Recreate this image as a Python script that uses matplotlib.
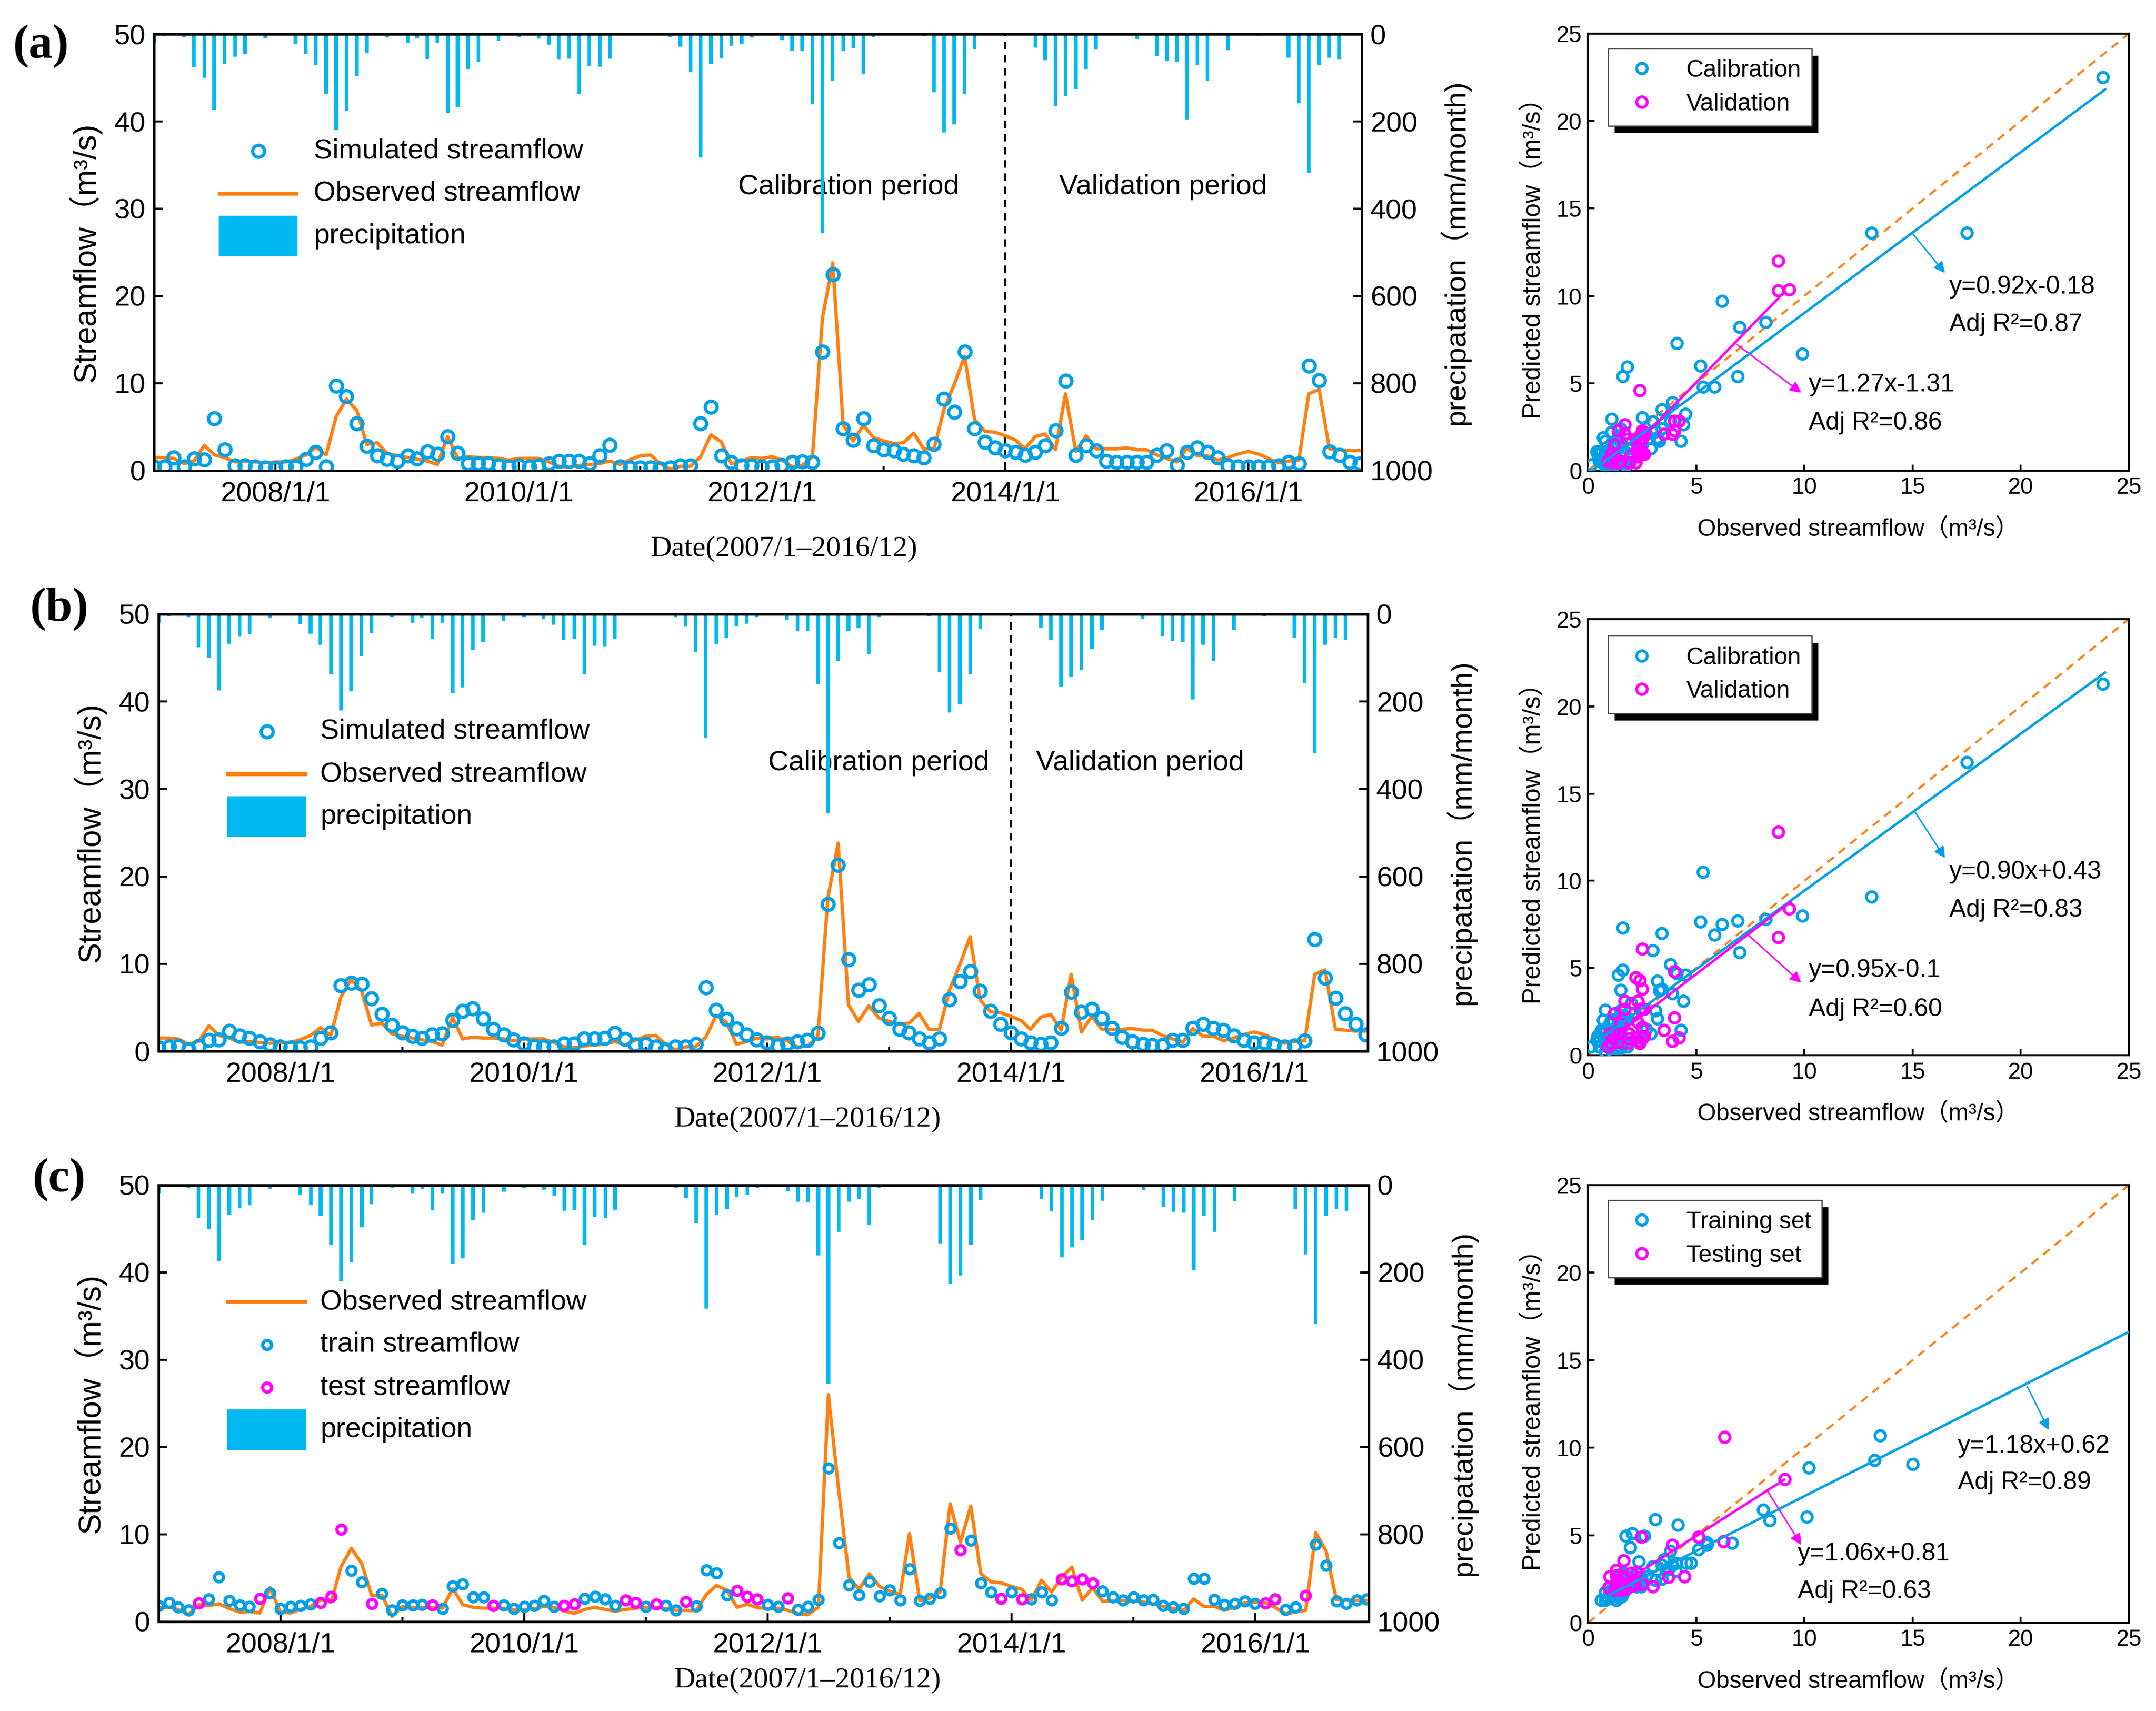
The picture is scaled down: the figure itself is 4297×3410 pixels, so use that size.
import numpy as np
import pandas as pd
import matplotlib
matplotlib.use("Agg")
import matplotlib.pyplot as plt
import matplotlib.dates as mdates
from matplotlib.lines import Line2D
from matplotlib.patches import Rectangle

SANS = ["Liberation Sans", "Noto Sans CJK SC", "DejaVu Sans"]
SERIF = ["Liberation Serif", "DejaVu Serif"]
plt.rcParams["font.family"] = SANS

# ---------------- data ----------------
dates = pd.date_range("2007-01-01", periods=120, freq="MS")

precip = [20, 5, 0, 7, 76, 100, 174, 68, 52, 46, 0, 9,
          0, 0, 23, 45, 70, 137, 220, 176, 97, 44, 0, 7,
          0, 20, 9, 57, 19, 180, 168, 81, 63, 0, 15, 0,
          7, 4, 10, 24, 59, 56, 137, 72, 75, 56, 0, 0,
          0, 3, 0, 7, 29, 87, 283, 68, 55, 27, 22, 7,
          0, 0, 14, 38, 39, 161, 455, 107, 38, 32, 91, 7,
          4, 3, 4, 0, 5, 133, 225, 207, 137, 34, 0, 0,
          0, 0, 4, 31, 60, 165, 143, 127, 80, 36, 0, 3,
          0, 11, 0, 50, 61, 63, 195, 70, 107, 0, 37, 0,
          4, 5, 0, 3, 54, 159, 318, 70, 54, 59, 0, 0]

obs_ab = [1.5, 1.5, 1.4, 0.8, 1.1, 2.9, 1.8, 1.5, 1.0, 1.1, 1.0, 0.9,
          1.0, 1.0, 1.3, 1.8, 2.7, 1.8, 6.2, 8.2, 6.9, 3.0, 3.2, 2.0,
          1.7, 1.5, 1.3, 1.1, 0.7, 3.9, 1.4, 1.6, 1.5, 1.5, 1.4, 1.2,
          1.4, 1.4, 1.4, 1.0, 0.5, 0.4, 0.6, 0.7, 0.8, 1.1, 0.7, 1.25,
          1.7, 1.8, 0.8, 0.15, 0.5, 0.5, 1.6, 4.1, 3.3, 0.8, 1.1, 1.5,
          1.4, 1.6, 1.2, 0.45, 0.6, 1.6, 17.5, 23.8, 5.3, 3.4, 5.2, 3.8,
          3.4, 3.1, 3.2, 4.3, 2.5, 2.5, 7.0, 9.9, 13.1, 5.85, 4.5, 4.4,
          4.0, 3.5, 2.5, 3.9, 4.2, 2.4, 8.8, 2.2, 4.0, 2.5, 2.5, 2.5,
          2.6, 2.4, 2.4, 1.8, 1.4, 1.0, 2.6, 1.7, 1.7, 1.2, 1.5, 1.9,
          2.2, 1.9, 1.4, 0.9, 1.1, 1.2, 8.8, 9.3, 2.5, 2.4, 2.3, 2.3]

sim_a = [0.45, 0.45, 1.5, 0.45, 1.4, 1.25, 5.95, 2.4, 0.55, 0.55, 0.45, 0.35,
         0.3, 0.45, 0.45, 1.3, 2.1, 0.45, 9.7, 8.5, 5.4, 2.8, 1.75, 1.3,
         1.1, 1.7, 1.4, 2.2, 1.9, 3.9, 2.0, 0.8, 0.8, 0.8, 0.55, 0.45,
         0.55, 0.45, 0.55, 0.8, 1.1, 1.1, 1.1, 0.8, 1.7, 2.95, 0.45, 0.35,
         0.35, 0.35, 0.25, 0.35, 0.55, 0.55, 5.4, 7.3, 1.7, 1.0, 0.55, 0.55,
         0.45, 0.45, 0.65, 0.95, 1.05, 1.0, 13.6, 22.5, 4.8, 3.5, 6.0, 2.85,
         2.4, 2.3, 1.9, 1.7, 1.5, 3.05, 8.2, 6.7, 13.6, 4.8, 3.25, 2.65,
         2.3, 2.1, 1.8, 2.1, 2.85, 4.6, 10.3, 1.8, 2.85, 2.3, 1.1, 0.95,
         0.95, 0.95, 0.95, 1.8, 2.3, 0.65, 2.1, 2.65, 2.1, 1.5, 0.55, 0.45,
         0.45, 0.45, 0.45, 0.55, 1.0, 0.8, 12.0, 10.35, 2.2, 1.8, 1.0, 0.8]

sim_b = [0.4, 0.5, 0.55, 0.2, 0.55, 1.25, 1.3, 2.3, 1.8, 1.5, 1.1, 0.75,
         0.5, 0.4, 0.4, 0.5, 1.5, 2.15, 7.5, 7.8, 7.7, 6.0, 4.25, 3.0,
         2.1, 1.7, 1.5, 1.9, 2.0, 3.55, 4.6, 4.9, 3.75, 2.55, 1.9, 1.3,
         0.85, 0.55, 0.5, 0.5, 0.85, 0.85, 1.45, 1.45, 1.5, 2.05, 1.35, 0.75,
         0.8, 0.5, 0.2, 0.5, 0.5, 0.8, 7.3, 4.7, 3.7, 2.6, 1.9, 1.3,
         0.95, 0.65, 0.85, 1.1, 1.25, 2.05, 16.8, 21.3, 10.5, 7.0, 7.65, 5.2,
         3.8, 2.55, 2.1, 1.45, 0.95, 1.45, 5.9, 8.0, 9.1, 6.9, 4.6, 3.1,
         2.15, 1.45, 1.0, 0.8, 1.0, 2.65, 6.75, 4.45, 4.8, 3.8, 2.65, 1.6,
         1.1, 0.8, 0.7, 0.7, 1.25, 1.25, 2.65, 3.1, 2.65, 2.4, 1.8, 1.25,
         1.0, 0.95, 0.75, 0.5, 0.65, 1.2, 12.8, 8.4, 6.1, 4.3, 3.1, 1.9]

obs_c = [1.6, 1.65, 1.4, 0.8, 1.95, 1.85, 2.05, 1.5, 1.1, 1.15, 1.0, 3.9,
         1.1, 1.0, 1.4, 1.75, 2.5, 2.25, 6.3, 8.4, 6.65, 3.0, 3.0, 0.6,
         1.75, 1.65, 1.65, 1.65, 1.55, 3.8, 1.95, 1.65, 1.55, 1.55, 1.55, 1.4,
         1.4, 1.5, 1.75, 1.65, 1.2, 0.95, 1.4, 1.65, 1.4, 1.2, 1.4, 1.55,
         1.65, 1.65, 1.5, 1.3, 1.3, 1.25, 3.1, 4.15, 3.6, 1.65, 2.0, 1.6,
         1.5, 1.55, 1.3, 0.9, 0.8, 1.65, 26.0, 15.0, 5.1, 3.7, 5.5, 4.05,
         3.5, 3.1, 10.1, 2.4, 2.7, 3.4, 13.5, 9.1, 13.25, 5.5, 4.55, 4.45,
         4.05, 3.7, 2.45, 4.75, 3.4, 5.1, 6.25, 2.45, 3.9, 2.35, 2.35, 2.45,
         2.35, 2.25, 2.05, 1.75, 1.5, 1.3, 2.6, 1.75, 1.75, 1.3, 1.65, 2.15,
         2.25, 2.15, 1.65, 0.9, 1.1, 1.3, 10.2, 8.1, 2.5, 2.45, 2.45, 2.45]

sim_c = [1.85, 2.2, 1.65, 1.3, 2.1, 2.6, 5.1, 2.4, 1.9, 1.75, 2.65, 3.3,
         1.5, 1.7, 1.85, 2.0, 2.2, 2.9, 10.6, 5.85, 4.55, 2.05, 3.2, 1.3,
         1.9, 1.9, 1.95, 1.9, 1.5, 4.1, 4.3, 2.8, 2.8, 1.85, 1.9, 1.5,
         1.75, 1.85, 2.4, 1.75, 1.85, 2.0, 2.65, 2.85, 2.6, 1.85, 2.45, 2.2,
         1.75, 2.0, 1.85, 1.3, 2.3, 1.8, 5.9, 5.6, 3.05, 3.55, 2.85, 2.6,
         1.95, 1.75, 2.7, 1.4, 1.75, 2.55, 17.6, 9.05, 4.2, 3.05, 4.6, 2.95,
         3.6, 2.45, 6.05, 2.4, 2.65, 3.3, 10.7, 8.2, 9.3, 4.45, 3.4, 2.65,
         3.4, 2.6, 2.6, 3.4, 2.5, 4.9, 4.65, 4.9, 4.45, 3.5, 2.8, 2.5,
         2.8, 2.45, 2.55, 1.85, 1.65, 1.5, 4.95, 4.95, 2.55, 1.95, 2.05, 2.35,
         2.05, 2.15, 2.6, 1.4, 1.65, 3.0, 8.85, 6.45, 2.35, 2.05, 2.45, 2.6]

test_idx_c = [4, 10, 16, 17, 18, 21, 27, 33, 40, 41, 46, 47, 49, 52, 57, 58,
              59, 62, 79, 83, 85, 89, 90, 91, 92, 109, 110, 113]

split_date = "2014-01-01"

tick_dates = ["2008-01-01", "2010-01-01", "2012-01-01", "2014-01-01", "2016-01-01"]
tick_labels = ["2008/1/1", "2010/1/1", "2012/1/1", "2014/1/1", "2016/1/1"]
minor_dates = ["2009-01-01", "2011-01-01", "2013-01-01", "2015-01-01"]
flow_ticks = [0, 10, 20, 30, 40, 50]
prec_ticks = [0, 200, 400, 600, 800, 1000]
sc_ticks = [0, 5, 10, 15, 20, 25]

# regression lines as drawn: slope, intercept, x-start, x-end
reg_a = [(0.92, -0.18, 0.5, 23.9), (1.27, -1.31, 1.1, 8.8)]
reg_b = [(0.90, 0.43, 0.3, 23.9), (0.95, -0.10, 0.8, 9.36)]
reg_c = [(0.626, 0.97, 0.7, 25.0), (0.79, 1.01, 0.9, 9.06)]
eq_a = ["y=0.92x-0.18", "Adj R²=0.87", "y=1.27x-1.31", "Adj R²=0.86"]
eq_b = ["y=0.90x+0.43", "Adj R²=0.83", "y=0.95x-0.1", "Adj R²=0.60"]
eq_c = ["y=1.18x+0.62", "Adj R²=0.89", "y=1.06x+0.81", "Adj R²=0.63"]

# ---------------- style ----------------
W, H, DPI = 4297, 3410, 300
BLUE = "#00A0E6"
BAR = "#00B9F0"
MAG = "#FF00FF"
ORANGE = "#FF7F10"

fig = plt.figure(figsize=(W / DPI, H / DPI), dpi=DPI)


def fx(x):
    return x / W


def fy(y):
    return 1 - y / H


def add_axes_px(l, t, r, b):
    return fig.add_axes([l / W, 1 - b / H, (r - l) / W, (b - t) / H])


xnum = mdates.date2num(dates.to_pydatetime())
split_num = mdates.date2num(pd.Timestamp(split_date).to_pydatetime())
obs_ab_a = np.array(obs_ab)
obs_c_a = np.array(obs_c)
sim_c_a = np.array(sim_c)
is_test = np.zeros(120, dtype=bool)
is_test[test_idx_c] = True


def ts_panel(box, obs, sims, period=True):
    ax = add_axes_px(*box)
    ax2 = ax.twinx()
    ax2.bar(xnum, precip, width=11, color=BAR, align="center", zorder=2)
    ax2.set_ylim(1000, 0)
    ax.plot(xnum, obs, color=ORANGE, lw=1.6, zorder=3)
    for xs, ys, col, ms in sims:
        ax.plot(xs, ys, ls="none", marker="o", mfc="none", mec=col, ms=ms,
                mew=1.6, zorder=4)
    ax.set_ylim(0, 50)
    ax.set_xlim(mdates.date2num(pd.Timestamp("2007-01-01").to_pydatetime()),
                mdates.date2num(pd.Timestamp("2016-12-07").to_pydatetime()))
    ax.set_xticks(mdates.date2num(pd.to_datetime(tick_dates).to_pydatetime()))
    ax.set_xticklabels(tick_labels)
    ax.set_xticks(mdates.date2num(pd.to_datetime(minor_dates).to_pydatetime()), minor=True)
    ax.set_yticks(flow_ticks)
    ax2.set_yticks(prec_ticks)
    for a in (ax, ax2):
        for s in a.spines.values():
            s.set_linewidth(1.2)
    ax.tick_params(axis="both", which="both", direction="in", labelsize=13.5,
                   width=1.0, top=False, right=False)
    ax.tick_params(which="major", length=4)
    ax.tick_params(which="minor", length=2.2)
    ax.tick_params(axis="x", pad=5)
    ax.tick_params(axis="y", pad=4)
    ax2.tick_params(axis="y", direction="in", labelsize=13.5, length=4,
                    width=1.0, pad=4)
    ax.set_ylabel("Streamflow（m³/s)", fontsize=15, labelpad=6)
    ax2.set_ylabel("precipatation（mm/month)", fontsize=14, labelpad=3)
    if period:
        ax.axvline(split_num, color="k", ls=(0, (4, 3)), lw=0.9, zorder=1)
    return ax, ax2


def ts_legend(ax, x0, x1, tx, rows):
    xc = 0.5 * (x0 + x1)
    for (kind, label, col, ms), y in rows:
        if kind == "line":
            ln = Line2D([fx(x0), fx(x1)], [fy(y), fy(y)], color=col, lw=1.9,
                        transform=fig.transFigure)
            fig.add_artist(ln)
        elif kind == "marker":
            mk = Line2D([fx(xc)], [fy(y)], ls="none", marker="o", mfc="none",
                        mec=col, ms=ms, mew=1.6, transform=fig.transFigure)
            fig.add_artist(mk)
        else:
            rc = Rectangle((fx(x0), fy(y + 38)), fx(x1) - fx(x0), 77 / H,
                           color=col, transform=fig.transFigure)
            fig.add_artist(rc)
        fig.text(fx(tx), fy(y), label, ha="left", va="center", fontsize=13.5)


legends = []


def sc_panel(box, pts, regs, arrows, eqs, eqpos, leg_labels, leg_anchor):
    ax = add_axes_px(*box)
    ax.plot([0, 25], [0, 25], color=ORANGE, ls=(0, (4, 3)), lw=1.0, zorder=1)
    handles = []
    for (xs, ys, col), lab in zip(pts, leg_labels):
        h, = ax.plot(xs, ys, ls="none", marker="o", mfc="none", mec=col, ms=5,
                     mew=1.4, zorder=3, label=lab)
        handles.append(h)
    for (m, c, xa, xb), col in zip(regs, [BLUE, MAG]):
        xx = np.array([xa, xb])
        ax.plot(xx, m * xx + c, color=col, lw=1.2, zorder=4)
    for (p0, p1), col in zip(arrows, [BLUE, MAG]):
        ax.annotate("", xy=p1, xytext=p0,
                    arrowprops=dict(arrowstyle="-|>", color=col, lw=0.7,
                                    mutation_scale=11, shrinkA=0, shrinkB=0))
    for txt, (x, y) in zip(eqs, eqpos):
        ax.text(x, y, txt, ha="left", va="center", fontsize=12)
    ax.set_xlim(0, 25)
    ax.set_ylim(0, 25)
    ax.set_xticks(sc_ticks)
    ax.set_yticks(sc_ticks)
    for s in ax.spines.values():
        s.set_linewidth(1.0)
    ax.tick_params(direction="in", labelsize=11, length=3, width=0.9, pad=3)
    ax.set_xlabel("Observed streamflow（m³/s）", fontsize=11.5, labelpad=9)
    ax.set_ylabel("Predicted streamflow（m³/s）", fontsize=12, labelpad=5)
    leg = ax.legend(handles=handles, loc="upper left", bbox_to_anchor=leg_anchor,
                    borderaxespad=0, fontsize=11.5, frameon=True, fancybox=False,
                    edgecolor="#444444", framealpha=1.0, borderpad=0.45,
                    labelspacing=0.45, handlelength=1.9, handletextpad=0.9)
    leg.get_frame().set_linewidth(0.6)
    leg.set_zorder(6)
    legends.append((ax, leg))
    return ax


# ---------------- panel (a) ----------------
cal = xnum < split_num
axa, _ = ts_panel((307, 68, 2714, 938), obs_ab, [(xnum, sim_a, BLUE, 5.7)])
axa.text(fx(1691), fy(373), "Calibration period", transform=fig.transFigure,
         ha="center", va="center", fontsize=13.5)
axa.text(fx(2318), fy(373), "Validation period", transform=fig.transFigure,
         ha="center", va="center", fontsize=13.5)
ts_legend(axa, 438, 591, 625,
          [(("marker", "Simulated streamflow", BLUE, 5.7), 301),
           (("line", "Observed streamflow", ORANGE, 0), 386),
           (("rect", "precipitation", BAR, 0), 471)])
fig.text(fx(1562), fy(1094), "Date(2007/1–2016/12)", ha="center", va="center",
         fontsize=14, family=SERIF)
fig.text(fx(82), fy(92), "(a)", ha="center", va="center", fontsize=23,
         fontweight="bold", family=SERIF)

sim_a_a = np.array(sim_a)
sc_panel((3165, 67, 4243, 938),
         [(obs_ab_a[cal], sim_a_a[cal], BLUE), (obs_ab_a[~cal], sim_a_a[~cal], MAG)],
         reg_a,
         [((15.0, 13.56), (16.5, 11.3)), ((6.9, 7.2), (9.86, 4.45))],
         eq_a, [(16.7, 10.5), (16.7, 8.36), (10.2, 4.92), (10.2, 2.73)],
         ["Calibration", "Validation"], (0.037, 0.966))

# ---------------- panel (b) ----------------
axb, _ = ts_panel((316, 1224, 2726, 2095), obs_ab, [(xnum, sim_b, BLUE, 5.7)])
axb.text(fx(1751), fy(1521), "Calibration period", transform=fig.transFigure,
         ha="center", va="center", fontsize=13.5)
axb.text(fx(2272), fy(1521), "Validation period", transform=fig.transFigure,
         ha="center", va="center", fontsize=13.5)
ts_legend(axb, 455, 608, 638,
          [(("marker", "Simulated streamflow", BLUE, 5.7), 1458),
           (("line", "Observed streamflow", ORANGE, 0), 1543),
           (("rect", "precipitation", BAR, 0), 1628)])
fig.text(fx(1609), fy(2231), "Date(2007/1–2016/12)", ha="center", va="center",
         fontsize=14, family=SERIF)
fig.text(fx(118), fy(1214), "(b)", ha="center", va="center", fontsize=23,
         fontweight="bold", family=SERIF)

sim_b_a = np.array(sim_b)
sc_panel((3165, 1234, 4243, 2103),
         [(obs_ab_a[cal], sim_b_a[cal], BLUE), (obs_ab_a[~cal], sim_b_a[~cal], MAG)],
         reg_b,
         [((15.1, 13.97), (16.5, 11.3)), ((7.4, 6.9), (9.86, 4.15))],
         eq_b, [(16.7, 10.5), (16.7, 8.3), (10.2, 4.86), (10.2, 2.63)],
         ["Calibration", "Validation"], (0.037, 0.962))

# ---------------- panel (c) ----------------
axc, _ = ts_panel((316, 2362, 2728, 3232), obs_c,
                  [(xnum[~is_test], sim_c_a[~is_test], BLUE, 4.3),
                   (xnum[is_test], sim_c_a[is_test], MAG, 4.3)], period=False)
ts_legend(axc, 455, 608, 638,
          [(("line", "Observed streamflow", ORANGE, 0), 2595),
           (("marker", "train streamflow", BLUE, 4.3), 2680),
           (("marker", "test streamflow", MAG, 4.3), 2765),
           (("rect", "precipitation", BAR, 0), 2850)])
fig.text(fx(1609), fy(3349), "Date(2007/1–2016/12)", ha="center", va="center",
         fontsize=14, family=SERIF)
fig.text(fx(118), fy(2351), "(c)", ha="center", va="center", fontsize=23,
         fontweight="bold", family=SERIF)

sc_panel((3165, 2362, 4243, 3234),
         [(obs_c_a[~is_test], sim_c_a[~is_test], BLUE), (obs_c_a[is_test], sim_c_a[is_test], MAG)],
         reg_c,
         [((20.3, 13.5), (21.3, 11.0)), ((8.27, 7.58), (9.86, 4.44))],
         eq_c, [(17.1, 10.1), (17.1, 8.0), (9.7, 3.94), (9.7, 1.78)],
         ["Training set", "Testing set"], (0.037, 0.966))

# solid black drop shadows behind the scatter legends
renderer = fig.canvas.get_renderer()
for ax, leg in legends:
    bb = leg.get_window_extent(renderer)
    shadow = Rectangle((bb.x0 / W + 13 / W, bb.y0 / H - 14 / H), bb.width / W,
                       bb.height / H, transform=fig.transFigure,
                       facecolor="black", edgecolor="none", zorder=5.5)
    ax.add_artist(shadow)

fig.savefig("out.png", dpi=DPI)
